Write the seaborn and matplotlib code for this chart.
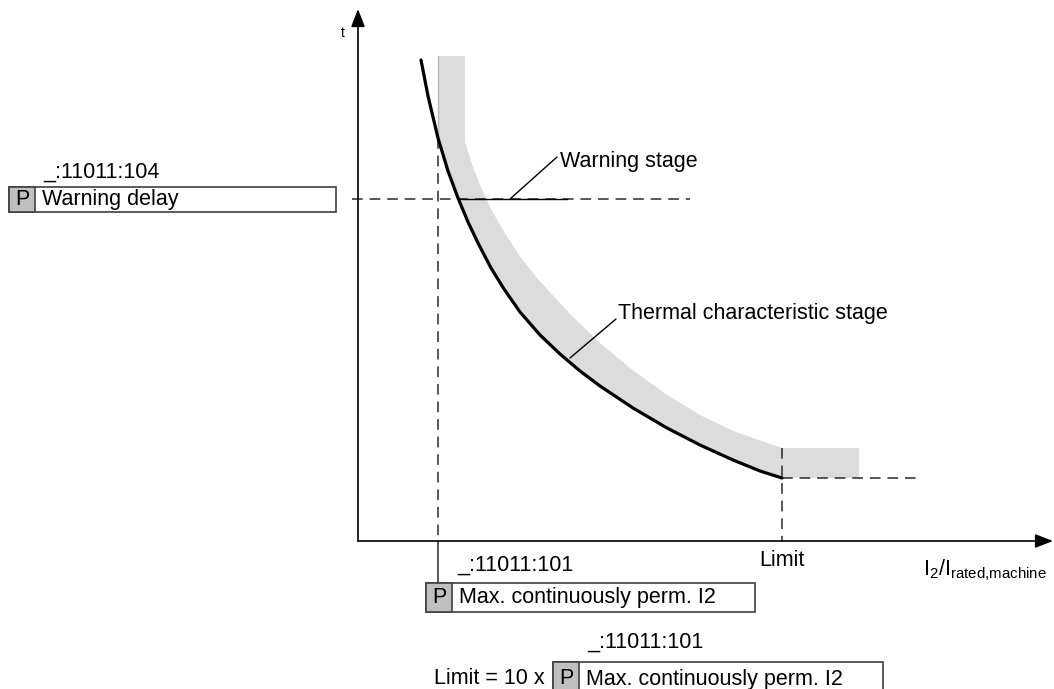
import matplotlib
matplotlib.use('Agg')
import matplotlib.pyplot as plt
from matplotlib.patches import Rectangle
import seaborn as sns

# thermal characteristic (I2/Irated vs t), origin at axis crossing
curve_i = [63, 70, 80, 90, 100, 110, 120, 133, 146, 162, 182, 202, 222, 242, 275, 309, 342, 375, 402, 424]
curve_t = [481, 445, 403, 370, 343, 319, 298, 273, 252, 229, 206, 187, 170, 155, 133, 113, 96, 81, 70, 63]

# upper edge of the tolerance band
band_i = [107, 107, 114, 122, 133, 145, 161, 179, 212, 242, 272, 309, 342, 375, 424]
band_t = [485, 399, 377, 356, 332, 311, 286, 263, 227, 198, 173, 146, 126, 110, 93]
plateau_end = 501

i_perm = 80      # max. continuously perm. I2
i_limit = 424    # Limit = 10 x ...
t_warn = 342     # warning delay
t_limit = 63

sns.set_theme(style='white')
plt.rcParams['font.family'] = ['Liberation Sans', 'DejaVu Sans']
plt.rcParams['text.color'] = 'black'
plt.rcParams['mathtext.fontset'] = 'custom'
plt.rcParams['mathtext.rm'] = 'Liberation Sans'
plt.rcParams['mathtext.it'] = 'Liberation Sans'
plt.rcParams['mathtext.default'] = 'regular'

fig = plt.figure(figsize=(10.54, 6.89), dpi=100)
ax = fig.add_axes([0, 0, 1, 1])
ax.set_xlim(-358, 696)
ax.set_ylim(-148, 541)
ax.axis('off')

dash = (0, (7, 4.5))
dcol = '#2a2a2a'
fs = 15.5

# grey band
poly_x = [i_perm] + curve_i[2:] + [plateau_end, plateau_end] + band_i[::-1] + [i_perm]
poly_y = [band_t[0]] + curve_t[2:] + [t_limit, band_t[-1]] + band_t[::-1] + [band_t[0]]
ax.fill(poly_x, poly_y, color='#dcdcdc', lw=0, zorder=1)
ax.plot([i_perm, i_perm], [band_t[0], curve_t[2]], color='#b8b8b8', lw=1, zorder=2)

# dashed guide lines
ax.plot([-6, 332], [t_warn, t_warn], ls=dash, color=dcol, lw=1.1, zorder=2)
ax.plot([i_perm, i_perm], [curve_t[2], 0], ls=dash, color=dcol, lw=1.1, zorder=2)
ax.plot([i_perm, i_perm], [0, -42], color=dcol, lw=1.1, zorder=2)
ax.plot([i_limit, i_limit], [band_t[-1], 0], ls=dash, color=dcol, lw=1.1, zorder=2)
ax.plot([i_limit, 559], [t_limit, t_limit], ls=dash, color=dcol, lw=1.1, zorder=2)

# warning stage segment
ax.plot([100, 209], [t_warn, t_warn], color='black', lw=1, zorder=3)

# characteristic curve
sns.lineplot(x=curve_i, y=curve_t, color='black', lw=2.3, ax=ax, estimator=None, sort=False, zorder=4)

# axes with arrows
arr = dict(arrowstyle='-|>,head_length=0.9,head_width=0.35', color='black', lw=1.2, shrinkA=0, shrinkB=0)
ax.annotate('', xy=(0, 532), xytext=(0, 0), arrowprops=arr)
ax.annotate('', xy=(695, 0), xytext=(0, 0), arrowprops=arr)
ax.text(-15, 508, 't', fontsize=10, ha='center', va='center')
ax.text(i_limit, -19, 'Limit', fontsize=fs, ha='center', va='center')
ax.text(689, -29, r'I$_2$/I$_{rated{,}machine}$', fontsize=fs, ha='right', va='center')

# annotation pointers
ax.plot([152, 199], [t_warn, 384], color='black', lw=1, zorder=3)
ax.text(202, 380, 'Warning stage', fontsize=fs, ha='left', va='center')
ax.plot([212, 258], [183, 222], color='black', lw=1, zorder=5)
ax.text(260, 228, 'Thermal characteristic stage', fontsize=fs, ha='left', va='center')


def param_box(x0, x1, top, bottom, label):
    ax.add_patch(Rectangle((x0, bottom), x1 - x0, top - bottom, fc='white', ec='#404040', lw=1.2, zorder=6))
    ax.add_patch(Rectangle((x0, bottom), 26, top - bottom, fc='#c0c0c0', ec='#404040', lw=1.2, zorder=7))
    yc = (top + bottom) / 2 if bottom > -148 else top - 17
    ax.text(x0 + 13, yc, 'P', fontsize=fs, ha='center', va='center', zorder=8)
    ax.text(x0 + 33, yc, label, fontsize=fs, ha='left', va='center', zorder=8)


param_box(-349, -22, 354, 329, 'Warning delay')
ax.text(-315, 369, '_:11011:104', fontsize=fs, ha='left', va='center')

param_box(68, 397, -42, -71, 'Max. continuously perm. I2')
ax.text(99, -24, '_:11011:101', fontsize=fs, ha='left', va='center')

param_box(195, 525, -121, -160, 'Max. continuously perm. I2')
ax.text(229, -101, '_:11011:101', fontsize=fs, ha='left', va='center')
ax.text(187, -138, 'Limit = 10 x', fontsize=fs, ha='right', va='center')

fig.savefig('out.png', dpi=100)
